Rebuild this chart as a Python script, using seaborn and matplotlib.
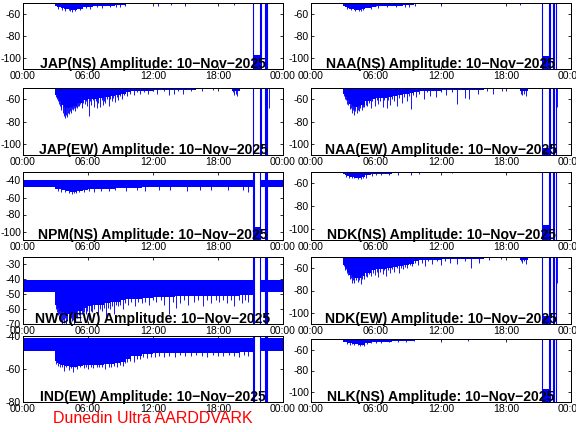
import numpy as np
import matplotlib
matplotlib.use("Agg")
import matplotlib.pyplot as plt
import seaborn as sns

nan = np.nan

# time edges (hours) of the step envelope shared by every panel
hours = [0, 2.95, 3.15, 3.35, 3.55, 3.75, 4.0, 4.3, 4.6, 5.0, 5.5, 6.0, 6.5, 7.0, 7.5,
         8.0, 8.5, 9.0, 9.5, 10.0, 11.0, 12.0, 14.0, 16.0, 19.3, 20.0, 21.25, 21.9,
         22.6, 24.0]

titles = ["JAP(NS)", "NAA(NS)", "JAP(EW)", "NAA(EW)", "NPM(NS)", "NDK(NS)",
          "NWC(EW)", "NDK(EW)", "IND(EW)", "NLK(NS)"]
ylims = [(-110, -50), (-110, -50), (-110, -50), (-110, -50), (-110, -30),
         (-110, -50), (-70, -25), (-110, -50), (-80, -40), (-110, -50)]
yticks = [[-100, -80, -60], [-100, -80, -60], [-100, -80, -60], [-100, -80, -60],
          [-100, -80, -60, -40], [-100, -80, -60], [-70, -60, -50, -40, -30],
          [-100, -80, -60], [-80, -60, -40], [-100, -80, -60]]
# upper edge of the signal band (above the axis for the quiet panels)
band_top = [-40, -40, -40, -40, -39.5, -40, -40.5, -40, -41, -40]
# top of the low block during the dropout (None = no block)
block_top = [-97, -98, None, -104, -95, -97, None, -103, None, -98]

# lower edge of the signal band, one value per interval of `hours` (last = end point)
jap_ns_lo = [-49, -52.5, -53.5, -54, -54.5, -55, -55.5, -56, -56, -55, -54, -53.5, -53, -53,
             -52.5, -52.5, -52, -52, -51, -50.5, -50.5, -50, -50, -49.5, -49.5, -49.5,
             nan, nan, -49, -49]
naa_ns_lo = [-49, -52.5, -53.5, -54.5, -55, -55.5, -56, -56, -55.5, -54.5, -53.5, -53, -53, -53,
             -52.5, -52.5, -52, -52, -51, -50.5, -50.5, -50, -50, -49.5, -49.5, -49.5,
             nan, nan, -49, -49]
jap_ew_lo = [-49.5, -56, -59, -62, -65, -67, -68, -67, -66, -63, -61, -60, -60, -59,
             -58, -57, -56, -55, -54, -53, -52.5, -52, -51.5, -51, -53, -51,
             nan, nan, -50, -50]
naa_ew_lo = [-49.5, -55, -58, -61, -64, -66, -67, -66, -65, -62, -60, -59, -59, -58,
             -57, -56, -55.5, -54.5, -54, -53, -52.5, -52, -51.5, -51, -53, -51,
             nan, nan, -50, -50]
npm_ns_lo = [-47.5, -49.5, -50, -50.5, -51, -51.5, -52.5, -53, -53.5, -52.5, -51, -50.5, -50, -50,
             -49.5, -49.5, -49, -49, -48.5, -48.5, -48, -48, -48, -47.5, -47.5, -47.5,
             nan, -47.5, -47.5, -47.5]
ndk_ns_lo = [-49, -52, -53, -53.5, -54, -54.5, -55, -55, -54.5, -53, -52, -51.5, -51.5, -51.5,
             -51, -51, -51, -50.5, -50, -49.5, -49.5, -49.5, -49.5, -49.5, -49.5, -49.5,
             nan, nan, -49, -49]
nwc_ew_lo = [-48.5, -57, -59, -61, -62, -63, -63, -63, -62.5, -61, -59, -58, -57.5, -57,
             -56, -55.5, -55, -54, -53.5, -53, -52.5, -52, -51.5, -51, -51, -50.5,
             nan, -48.5, -48.5, -48.5]
ndk_ew_lo = [-49.5, -57, -60, -63, -66, -68, -69, -69, -67, -64, -62, -61, -60.5, -60,
             -59, -58, -57, -56, -54, -53, -52.5, -52, -51.5, -51, -53, -51,
             nan, nan, -50, -50]
ind_ew_lo = [-49, -55, -56.5, -57, -57.5, -58, -58, -58.5, -58.5, -58, -57.5, -57.5, -57.5, -57.5,
             -57, -57, -56.5, -55.5, -54, -52, -51, -50.5, -50.5, -50, -50, -49.5,
             nan, -49, -49, -49]
nlk_ns_lo = [-49.5, -52.5, -53, -53.5, -54, -54.5, -55, -55.5, -55.5, -54, -53, -52.5, -52.5, -52.5,
             -52, -52, -51.5, -51.5, -51, -50.5, -50.5, -50, -50, -49.5, -49.5, -49.5,
             nan, nan, -49, -49]

# individual downward spikes: (time in hours, lowest value in dB)
jap_ns_spikes = [(3.2, -55), (3.6, -56), (3.9, -57), (4.2, -56.5), (4.35, -57.5), (4.5, -58),
                 (4.8, -57.5), (5.3, -56), (5.8, -54.5), (6.2, -55), (6.8, -54), (7.3, -54.5),
                 (8.0, -54), (8.6, -54), (9.0, -53.5), (9.4, -52.5), (12.5, -52.5),
                 (13.7, -52), (15.0, -52.5), (19.5, -51.5)]
naa_ns_spikes = [(3.3, -55), (3.7, -56.5), (4.1, -57), (4.4, -57.5), (4.6, -57), (4.8, -56.5),
                 (5.5, -55), (6.2, -54.5), (7.0, -54), (7.8, -54), (8.7, -53.5), (9.0, -54),
                 (9.6, -52.5), (12.0, -52), (19.3, -51.5)]
jap_ew_spikes = [(3.0, -58), (3.1, -60), (3.2, -62), (3.3, -64), (3.4, -66), (3.5, -68),
                 (3.55, -70), (3.65, -72), (3.75, -75), (3.85, -73), (3.9, -77), (4.0, -74),
                 (4.05, -76), (4.15, -72), (4.2, -73), (4.3, -71), (4.4, -72), (4.5, -69),
                 (4.6, -70), (4.7, -68), (4.8, -71), (4.9, -67), (4.95, -68), (5.05, -66),
                 (5.2, -66), (5.3, -64), (5.45, -68), (5.55, -63), (5.7, -64), (5.8, -62),
                 (5.95, -66), (6.05, -75), (6.15, -62), (6.3, -65), (6.45, -61), (6.55, -67),
                 (6.7, -62), (6.8, -68), (6.95, -63), (7.1, -67), (7.25, -61), (7.4, -65),
                 (7.5, -62), (7.6, -63), (7.75, -60), (7.9, -66), (8.05, -60), (8.2, -62),
                 (8.35, -59), (8.5, -62.5), (8.65, -58), (8.8, -61), (8.95, -57), (9.1, -60),
                 (9.3, -56), (9.6, -57), (9.9, -55), (10.2, -56), (10.5, -54), (10.8, -55.5),
                 (11.2, -54), (11.5, -55), (12.0, -53), (12.4, -55), (13.0, -53), (13.5, -56),
                 (13.9, -55), (14.3, -53), (14.8, -55), (15.5, -53), (16.5, -53), (17.5, -52),
                 (19.4, -54), (19.5, -56), (19.65, -55), (19.8, -57), (22.7, -68)]
naa_ew_spikes = [(3.0, -57), (3.1, -60), (3.2, -61), (3.35, -64), (3.45, -65), (3.6, -69),
                 (3.7, -68), (3.8, -72), (3.9, -70), (4.0, -74), (4.1, -71), (4.2, -72),
                 (4.3, -70), (4.45, -71), (4.55, -68), (4.7, -70), (4.8, -67), (4.9, -67),
                 (5.05, -65), (5.2, -66), (5.35, -63), (5.5, -68), (5.65, -62), (5.9, -66),
                 (6.05, -61), (6.2, -64), (6.4, -62), (6.6, -67), (6.75, -61), (7.0, -68),
                 (7.15, -61), (7.3, -65), (7.5, -60), (7.7, -62), (7.9, -66), (8.1, -59),
                 (8.4, -63), (8.6, -58), (8.9, -62), (9.05, -57), (9.2, -69), (9.4, -56),
                 (9.7, -58), (10.0, -55), (10.4, -60), (10.7, -54), (11.0, -57), (11.5, -58),
                 (12.0, -54), (12.5, -56), (13.0, -54), (13.5, -64), (14.2, -59), (14.6, -60),
                 (15.4, -55), (16.2, -53), (16.8, -55), (17.6, -53), (19.4, -55), (19.5, -56),
                 (19.7, -55), (19.8, -57), (22.7, -67)]
npm_ns_spikes = [(3.2, -52), (3.5, -53), (3.9, -54), (4.2, -54.5), (4.5, -55.5), (4.7, -54.5),
                 (4.9, -55), (5.2, -54), (5.6, -53), (6.1, -52.5), (6.6, -53), (7.2, -52),
                 (7.9, -52.5), (8.5, -51.5), (9.5, -52), (10.5, -51), (11.3, -52), (12.6, -51),
                 (13.6, -51.5), (15.1, -52), (16.3, -51), (17.4, -51.5), (18.9, -51),
                 (20.3, -51.5), (20.8, -53.5)]
ndk_ns_spikes = [(3.2, -54), (3.5, -55), (3.8, -55), (4.0, -55.5), (4.3, -56), (4.6, -56),
                 (4.8, -55), (5.1, -55.5), (5.6, -53.5), (6.5, -53), (7.2, -52.5), (8.0, -52.5),
                 (9.2, -52.5), (10.0, -51.5), (13.0, -51)]
nwc_ew_spikes = [(3.0, -60), (3.1, -62), (3.2, -64), (3.3, -63), (3.4, -66), (3.5, -68),
                 (3.6, -70), (3.7, -67), (3.8, -69), (3.9, -66), (4.0, -70), (4.1, -67),
                 (4.2, -69), (4.3, -70), (4.4, -66), (4.5, -68), (4.65, -67), (4.75, -70),
                 (4.9, -65), (5.0, -66), (5.15, -64), (5.3, -68), (5.4, -63), (5.5, -64),
                 (5.65, -62), (5.8, -63), (5.95, -61), (6.1, -67), (6.25, -61), (6.4, -62),
                 (6.6, -60), (6.9, -63), (7.1, -60), (7.3, -61), (7.5, -59), (7.7, -66),
                 (7.85, -59), (8.0, -60), (8.2, -58), (8.4, -63), (8.6, -57), (8.8, -58),
                 (9.0, -57), (9.2, -60), (9.45, -56), (9.7, -57), (10.0, -55), (10.3, -58),
                 (10.6, -55), (11.0, -56), (11.3, -55), (11.6, -57), (12.0, -54), (12.3, -55),
                 (12.7, -54), (13.0, -57), (13.5, -63), (13.8, -55), (14.1, -59), (14.5, -56),
                 (14.9, -54), (15.2, -57), (15.8, -55), (16.2, -54), (16.6, -58), (17.0, -54),
                 (17.4, -56), (17.8, -54), (18.1, -55), (18.5, -54), (18.8, -56), (19.2, -54),
                 (19.5, -58), (19.9, -54), (20.2, -56), (20.5, -54), (20.8, -55)]
ndk_ew_spikes = [(3.0, -58), (3.1, -62), (3.2, -61), (3.3, -64), (3.4, -66), (3.5, -65),
                 (3.6, -70), (3.7, -69), (3.8, -73), (3.9, -71), (4.0, -73), (4.15, -71),
                 (4.3, -72), (4.45, -71), (4.6, -74), (4.75, -70), (4.9, -70), (5.05, -67),
                 (5.2, -68), (5.35, -65), (5.5, -67), (5.7, -64), (5.9, -66), (6.05, -63),
                 (6.2, -68), (6.4, -63), (6.6, -65), (6.75, -62), (6.9, -67), (7.1, -62),
                 (7.3, -64), (7.5, -61), (7.7, -63), (7.9, -60), (8.1, -64), (8.3, -60),
                 (8.5, -61), (8.7, -59), (8.9, -60), (9.1, -57), (9.3, -58), (9.6, -55),
                 (9.9, -57), (10.2, -55), (10.5, -58), (10.8, -54), (11.2, -56), (11.6, -54),
                 (12.0, -57), (12.4, -54), (12.8, -55), (13.5, -56), (14.2, -54), (14.8, -60),
                 (15.5, -55), (16.4, -53), (17.5, -52), (19.4, -54), (19.5, -55), (19.7, -54),
                 (19.8, -56), (22.7, -73)]
ind_ew_spikes = [(3.0, -57), (3.2, -58), (3.4, -59), (3.6, -58.5), (3.8, -61), (4.0, -59),
                 (4.2, -60.5), (4.4, -59.5), (4.6, -62), (4.8, -59), (5.0, -60), (5.3, -59),
                 (5.6, -59.5), (5.8, -58.5), (6.0, -60), (6.3, -58.5), (6.5, -59.5), (6.8, -58.5),
                 (7.0, -59), (7.3, -58.5), (7.6, -60), (7.9, -58.5), (8.1, -59), (8.4, -58),
                 (8.7, -58.5), (9.0, -57.5), (9.2, -58), (9.4, -56.5), (9.6, -56), (9.9, -55),
                 (10.2, -55.5), (10.5, -54), (10.8, -54), (11.1, -53), (11.4, -53.5),
                 (11.8, -52.5), (12.2, -53), (12.6, -52), (13.0, -52.5), (13.5, -52),
                 (14.0, -53), (14.5, -51.5), (15.0, -52), (15.5, -52), (16.0, -51.5),
                 (16.5, -52), (17.0, -52.5), (17.5, -51.5), (18.0, -52), (18.5, -52),
                 (19.0, -51.5), (19.5, -52), (19.9, -53), (20.4, -51.5), (20.8, -52)]
nlk_ns_spikes = [(3.3, -54.5), (3.6, -55.5), (3.8, -55), (4.0, -56), (4.3, -56), (4.5, -56.5),
                 (4.7, -56), (4.9, -57), (5.2, -55), (5.5, -54), (6.0, -54), (6.5, -53.5),
                 (7.2, -53), (8.0, -53), (8.8, -52.5), (9.5, -52), (12.0, -51.5), (14.5, -51.5)]

# full-height jumps during the evening dropout
drops_left = [21.2, 21.85, 22.0, 22.3, 22.42, 22.55]
drops_right = [21.3, 21.95, 22.1, 22.3, 22.45, 22.6]
drops_split = [21.25, 21.32, 21.9, 22.3, 22.42, 22.55]
block_left = [21.2, 21.85]
block_right = [21.3, 21.95]

lows = [jap_ns_lo, naa_ns_lo, jap_ew_lo, naa_ew_lo, npm_ns_lo, ndk_ns_lo,
        nwc_ew_lo, ndk_ew_lo, ind_ew_lo, nlk_ns_lo]
spikes = [jap_ns_spikes, naa_ns_spikes, jap_ew_spikes, naa_ew_spikes, npm_ns_spikes,
          ndk_ns_spikes, nwc_ew_spikes, ndk_ew_spikes, ind_ew_spikes, nlk_ns_spikes]
drops = [drops_left, drops_right, drops_left, drops_right, drops_split,
         drops_right, drops_split, drops_right, drops_split, drops_right]

date_str = "10\u2212Nov\u22122025"
xtick_pos = [0, 6, 12, 18, 24]
xtick_lab = ["00:00", "06:00", "12:00", "18:00", "00:00"]

sns.set_theme(style="white")
plt.rcParams["font.family"] = ["Liberation Sans", "DejaVu Sans"]
plt.rcParams["axes.unicode_minus"] = False
tick_family = ["Liberation Sans Narrow", "Liberation Sans", "DejaVu Sans"]

# axes boxes in pixels: (top, bottom) per row
row_px = [(3, 69), (88, 155), (172, 240), (257, 324), (336, 402)]
row_px_right5 = (339, 402)
col_left = [23, 311]
W, H = 576, 432
blue = "#0000ff"

edges = np.array(hours, dtype=float)
widths = np.diff(edges)

fig = plt.figure(figsize=(8, 6), dpi=72)
fig.patch.set_facecolor("white")

for i, name in enumerate(titles):
    row, col = divmod(i, 2)
    top, bot = row_px[row]
    if row == 4 and col == 1:
        top, bot = row_px_right5
    ax = fig.add_axes([col_left[col] / W, 1 - bot / H, 260 / W, (bot - top) / H])
    y0, y1 = ylims[i]

    # signal band: one block per time interval, from the lower edge up to the band top
    lo = np.array(lows[i][:-1], dtype=float)
    ok = ~np.isnan(lo)
    ax.bar(edges[:-1][ok], band_top[i] - lo[ok], width=widths[ok] * 1.001, bottom=lo[ok],
           align="edge", color=blue, lw=0)

    st, sv = zip(*spikes[i])
    ax.vlines(st, sv, band_top[i], color=blue, lw=0.9)

    ax.vlines(drops[i], y0 - 5, y1 + 5, color=blue, lw=1.1)
    if block_top[i] is not None:
        span = block_left if col == 0 else block_right
        ax.fill_between(span, [y0 - 5, y0 - 5], [block_top[i], block_top[i]],
                        color=blue, lw=0)

    ax.set_xlim(0, 24)
    ax.set_ylim(y0, y1)
    ax.set_xticks(xtick_pos)
    ax.set_xticklabels(xtick_lab)
    ax.set_yticks(yticks[i])
    ax.tick_params(direction="in", length=3, width=0.8, labelsize=10.5, pad=2,
                   left=True, right=True, bottom=True, top=True, colors="black")
    for lab in ax.get_xticklabels() + ax.get_yticklabels():
        lab.set_family(tick_family)
    for s in ax.spines.values():
        s.set_color("black")
        s.set_linewidth(1.0)
    ax.grid(False)
    ax.text(0.5, 0.015, f"{name} Amplitude: {date_str}", transform=ax.transAxes,
            ha="center", va="baseline", fontsize=14, fontweight="bold", color="black")

fig.text(153 / W, 1 - 423 / H, "Dunedin Ultra AARDDVARK", color="red", fontsize=16,
         ha="center", va="baseline")

fig.savefig("out.png", dpi=72)
